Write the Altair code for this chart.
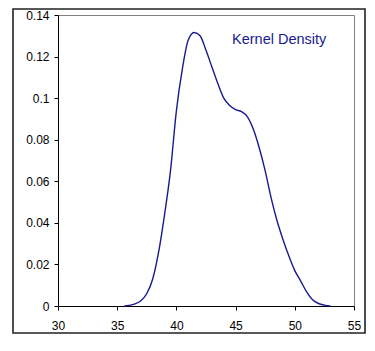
import altair as alt
import pandas as pd

# Values
xs = [35.6, 36.0, 36.5, 37.0, 37.5, 38.0, 38.5, 39.0, 39.5, 40.0, 40.5, 41.0,
      41.5, 42.0, 42.5, 43.0, 43.5, 44.0, 44.5, 45.0, 45.5, 46.0, 46.5, 47.0,
      47.5, 48.0, 48.5, 49.0, 49.5, 50.0, 50.5, 51.0, 51.5, 52.0, 52.5, 53.0]
density = [0.0, 0.0003, 0.001, 0.0025, 0.006, 0.013, 0.026, 0.044, 0.065, 0.094,
           0.114, 0.128, 0.1316, 0.130, 0.123, 0.115, 0.107, 0.100, 0.0965, 0.0945,
           0.0935, 0.091, 0.085, 0.076, 0.065, 0.052, 0.041, 0.032, 0.024, 0.017,
           0.012, 0.0068, 0.003, 0.0012, 0.0004, 0.0]
x_ticks = [30, 35, 40, 45, 50, 55]
y_ticks = [0, 0.02, 0.04, 0.06, 0.08, 0.1, 0.12, 0.14]
legend_label = "Kernel Density"

df = pd.DataFrame({"x": xs, "y": density})

FONT = "Liberation Sans"

line = alt.Chart(df).mark_line(color="#1a1a90", strokeWidth=1.4, interpolate="monotone").encode(
    x=alt.X("x:Q", scale=alt.Scale(domain=[30, 55], nice=False, zero=False),
            axis=alt.Axis(values=x_ticks, title=None, grid=False, format="d",
                          tickSize=4, labelPadding=10, labelFontSize=12,
                          labelFont=FONT, labelColor="#000", domainColor="#000",
                          tickColor="#000", labelFlush=False)),
    y=alt.Y("y:Q", scale=alt.Scale(domain=[0, 0.14], nice=False),
            axis=alt.Axis(values=y_ticks, title=None, grid=False, format=".2~f",
                          tickSize=4, labelPadding=5, labelFontSize=12,
                          labelFont=FONT, labelColor="#000", domainColor="#000",
                          tickColor="#000", labelFlush=False)),
)

frame = alt.Chart(alt.Data(values=[{}])).mark_rect(
    fill=None, stroke="#222", strokeWidth=1.6
).encode(
    x=alt.value(-45), x2=alt.value(307), y=alt.value(-6), y2=alt.value(318)
)

label = alt.Chart(alt.Data(values=[{"t": legend_label}])).mark_text(
    align="left", baseline="alphabetic", font=FONT, fontSize=14.5, color="#1a1a90"
).encode(
    x=alt.value(174), y=alt.value(28.5), text="t:N"
)

chart = alt.layer(line, frame, label).properties(
    width=296, height=291,
    autosize=alt.AutoSizeParams(type="none"),
    padding={"left": 50, "top": 7, "right": 13, "bottom": 28},
).configure_view(stroke="#808080", strokeWidth=1).configure_axis(domainWidth=1, tickWidth=1)

chart.save("out.html", embed_options={"renderer": "svg", "actions": False})
